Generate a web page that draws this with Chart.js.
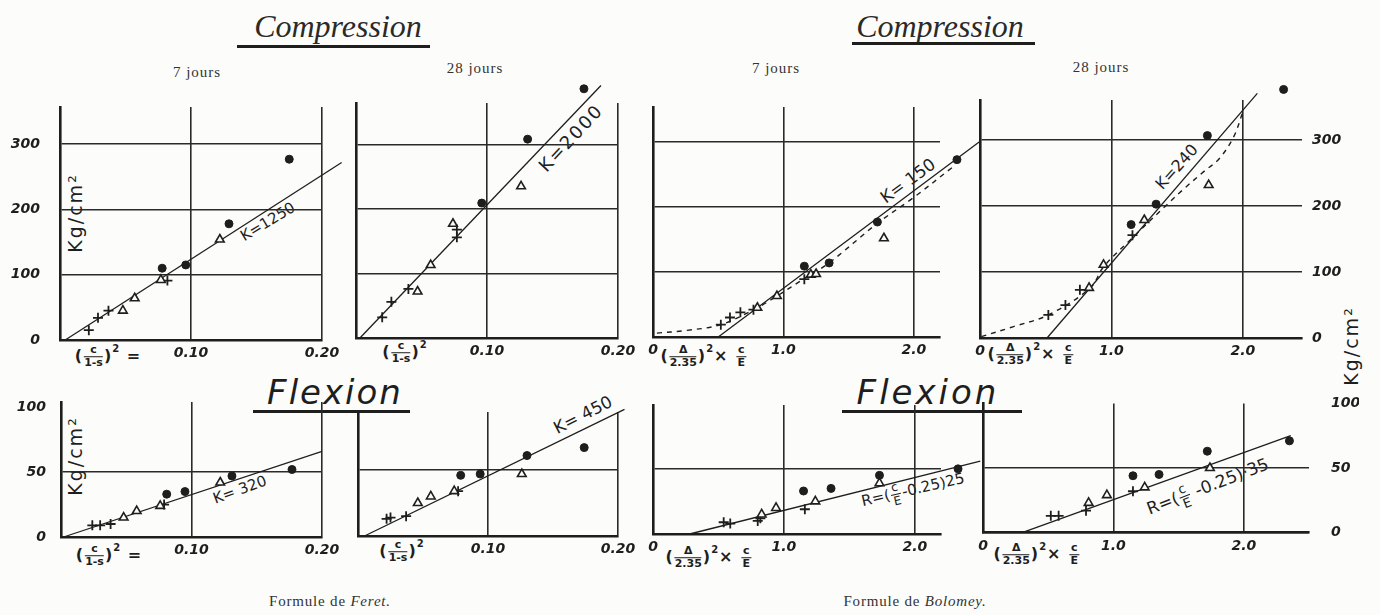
<!DOCTYPE html>
<html lang="fr">
<head>
<meta charset="utf-8">
<title>Formules de Feret et de Bolomey</title>
<script src="https://cdn.jsdelivr.net/npm/chart.js@4.4.1/dist/chart.umd.min.js"></script>
<style>
  html, body { margin: 0; padding: 0; }
  body { width: 1380px; height: 615px; position: relative; overflow: hidden; background: #fcfcfa; color: #1e1e1e; }
  canvas { position: absolute; }
  .t { position: absolute; white-space: nowrap; transform: translate(-50%, -50%); line-height: 1; }
  .title { font: italic 32px "Liberation Serif", serif; color: #2a2a2a; }
  .flex { font: italic 34px "DejaVu Sans", sans-serif; letter-spacing: 2px; }
  .days { font: 15px "Liberation Serif", serif; letter-spacing: 1px; color: #333; }
  .formule { font: 15px "Liberation Serif", serif; letter-spacing: 0.8px; color: #333; }
  .rule { position: absolute; background: #1e1e1e; }
  .hand { font-family: "DejaVu Sans", sans-serif; }
  .expr { font: bold 16px "DejaVu Sans", sans-serif; letter-spacing: 1px; }
  .expr sup { font-size: 10px; vertical-align: 9px; }
  .fr { display: inline-flex; flex-direction: column; vertical-align: middle; text-align: center; font-size: 11px; line-height: 1.05; margin: 0 1px; letter-spacing: 0; }
  .fr > span:first-child { border-bottom: 1.5px solid #1e1e1e; padding: 0 2px; }
  .unit { font: 19px "DejaVu Sans", sans-serif; letter-spacing: 2px; }
</style>
</head>
<body>

<div class="t title" style="left:338px;top:26px">Compression</div>
<div class="rule" style="left:237px;top:45px;width:193px;height:3px"></div>
<div class="t title" style="left:940px;top:26px">Compression</div>
<div class="rule" style="left:852px;top:42px;width:183px;height:3px"></div>

<div class="t days" style="left:197px;top:72px">7 jours</div>
<div class="t days" style="left:475px;top:68px">28 jours</div>
<div class="t days" style="left:776px;top:68px">7 jours</div>
<div class="t days" style="left:1101px;top:67px">28 jours</div>

<div class="t flex" style="left:335px;top:392px">Flexion</div>
<div class="rule" style="left:253px;top:410px;width:157px;height:2.5px"></div>
<div class="t flex" style="left:928px;top:392px;letter-spacing:3px">Flexion</div>
<div class="rule" style="left:842px;top:410px;width:180px;height:2.5px"></div>

<div class="t formule" style="left:330px;top:601px">Formule de <i>Feret.</i></div>
<div class="t formule" style="left:915px;top:601px">Formule de <i>Bolomey.</i></div>

<!-- unités -->
<div class="t unit" style="left:75px;top:213px;transform:translate(-50%,-50%) rotate(-90deg)">Kg/cm²</div>
<div class="t unit" style="left:75px;top:456px;transform:translate(-50%,-50%) rotate(-90deg)">Kg/cm²</div>
<div class="t unit" style="left:1351px;top:346px;transform:translate(-50%,-50%) rotate(-90deg)">Kg/cm²</div>

<!-- abscisses -->
<div class="t expr" style="left:108px;top:356px">(<span class="fr"><span>c</span><span>1-s</span></span>)<sup>2</sup> =</div>
<div class="t expr" style="left:405px;top:352px">(<span class="fr"><span>c</span><span>1-s</span></span>)<sup>2</sup></div>
<div class="t expr" style="left:109px;top:555px">(<span class="fr"><span>c</span><span>1-s</span></span>)<sup>2</sup> =</div>
<div class="t expr" style="left:402px;top:551px">(<span class="fr"><span>c</span><span>1-s</span></span>)<sup>2</sup></div>
<div class="t expr" style="left:704px;top:356px">(<span class="fr"><span>Δ</span><span>2.35</span></span>)<sup>2</sup>× <span class="fr"><span>c</span><span>E</span></span></div>
<div class="t expr" style="left:1031px;top:354px">(<span class="fr"><span>Δ</span><span>2.35</span></span>)<sup>2</sup>× <span class="fr"><span>c</span><span>E</span></span></div>
<div class="t expr" style="left:709px;top:557px">(<span class="fr"><span>Δ</span><span>2.35</span></span>)<sup>2</sup>× <span class="fr"><span>c</span><span>E</span></span></div>
<div class="t expr" style="left:1037px;top:554px">(<span class="fr"><span>Δ</span><span>2.35</span></span>)<sup>2</sup>× <span class="fr"><span>c</span><span>E</span></span></div>

<!-- droites -->
<div class="t hand" style="left:268px;top:222px;font-size:15px;transform:translate(-50%,-50%) rotate(-31deg)">K=1250</div>
<div class="t hand" style="left:571px;top:138px;font-size:18px;letter-spacing:2px;transform:translate(-50%,-50%) rotate(-47deg)">K=2000</div>
<div class="t hand" style="left:908px;top:181px;font-size:17px;transform:translate(-50%,-50%) rotate(-36deg)">K= 150</div>
<div class="t hand" style="left:1177px;top:167px;font-size:16px;transform:translate(-50%,-50%) rotate(-48deg)">K=240</div>
<div class="t hand" style="left:240px;top:490px;font-size:15px;transform:translate(-50%,-50%) rotate(-20deg)">K= 320</div>
<div class="t hand" style="left:583px;top:415px;font-size:17px;transform:translate(-50%,-50%) rotate(-27deg)">K= 450</div>
<div class="t hand" style="left:913px;top:490px;font-size:15px;transform:translate(-50%,-50%) rotate(-13deg)">R=(<span class="fr" style="font-size:12px"><span>c</span><span>E</span></span>-0.25)25</div>
<div class="t hand" style="left:1208px;top:487px;font-size:17px;transform:translate(-50%,-50%) rotate(-21deg)">R=(<span class="fr" style="font-size:13px"><span>c</span><span>E</span></span> -0.25)·35</div>

<script>
const INK = '#1e1e1e';
const PAPER = '#fcfcfa';

// axes
const feretX = [0, 0.1, 0.2];
const feretXLabels = ['', '0.10', '0.20'];
const bolomeyX = [0, 1, 2];
const bolomeyXLabels = ['0', '1.0', '2.0'];
const compY = [0, 100, 200, 300];
const compYLabels = ['0', '100', '200', '300'];
const flexY = [0, 50, 100];
const flexYLabels = ['0', '50', '100'];

// Feret, compression 7 jours
const fc7Cross = [[0.022, 15], [0.029, 34], [0.037, 45], [0.082, 91]];
const fc7Tri = [[0.048, 45], [0.057, 64], [0.077, 92], [0.122, 154]];
const fc7Dots = [[0.078, 110], [0.096, 115], [0.129, 178], [0.175, 277]];
const fc7Line = [[0.004, 0], [0.215, 272]];

// Feret, compression 28 jours
const fc28Cross = [[0.020, 32], [0.027, 56], [0.040, 76], [0.077, 156], [0.077, 168]];
const fc28Tri = [[0.047, 72], [0.057, 113], [0.074, 177], [0.126, 235]];
const fc28Dots = [[0.096, 209], [0.131, 308], [0.174, 386]];
const fc28Line = [[0.003, 0], [0.187, 391]];

// Bolomey, compression 7 jours
const bc7Cross = [[0.52, 19], [0.59, 30], [0.67, 38], [0.77, 42], [1.16, 89]];
const bc7Tri = [[0.80, 45], [0.95, 63], [1.21, 96], [1.25, 97], [1.77, 152]];
const bc7Dots = [[1.16, 109], [1.35, 114], [1.72, 177], [2.33, 273]];
const bc7Line = [[0.5, 0], [2.5, 300]];
const bc7Curve = [[0.03, 6], [0.25, 10], [0.52, 19], [0.8, 45], [0.95, 63], [1.16, 90], [1.35, 114], [1.72, 175], [2.0, 215], [2.3, 262]];

// Bolomey, compression 28 jours
const bc28Cross = [[0.52, 35], [0.65, 50], [0.76, 73], [1.16, 156]];
const bc28Tri = [[0.83, 76], [0.94, 111], [1.25, 179], [1.74, 232]];
const bc28Dots = [[1.15, 172], [1.34, 203], [1.73, 307], [2.31, 377]];
const bc28Line = [[0.51, 0], [2.11, 371]];
const bc28Curve = [[0.01, 2], [0.25, 17], [0.52, 35], [0.84, 76], [0.94, 108], [1.16, 152], [1.41, 200], [1.55, 226], [1.7, 252], [1.82, 272], [1.93, 305], [2.0, 343]];

// Feret, flexion 7 jours
const ff7Cross = [[0.024, 9], [0.030, 9], [0.038, 10], [0.079, 25]];
const ff7Tri = [[0.048, 15], [0.058, 20], [0.076, 24], [0.122, 42]];
const ff7Dots = [[0.081, 33], [0.095, 35], [0.131, 47], [0.177, 52]];
const ff7Line = [[0.002, 0], [0.2, 66]];

// Feret, flexion 28 jours
const ff28Cross = [[0.022, 13], [0.025, 14], [0.037, 15], [0.077, 34]];
const ff28Tri = [[0.046, 25], [0.056, 30], [0.074, 34], [0.126, 47]];
const ff28Dots = [[0.079, 46], [0.094, 47], [0.130, 61], [0.174, 67]];
const ff28Line = [[0.005, 0], [0.205, 96]];

// Bolomey, flexion 7 jours
const bf7Cross = [[0.54, 9], [0.59, 8], [0.80, 10], [0.82, 12], [1.16, 19]];
const bf7Tri = [[0.83, 15], [0.94, 20], [1.24, 25], [1.73, 39]];
const bf7Dots = [[1.15, 33], [1.36, 35], [1.73, 45], [2.33, 50]];
const bf7Line = [[0.28, 0], [2.5, 56]];

// Bolomey, flexion 28 jours
const bf28Cross = [[0.52, 13], [0.58, 13], [0.79, 17], [1.15, 32]];
const bf28Tri = [[0.81, 23], [0.95, 29], [1.24, 35], [1.74, 50]];
const bf28Dots = [[1.15, 44], [1.35, 45], [1.72, 63], [2.35, 71]];
const bf28Line = [[0.30, 0], [2.36, 75]];

// box = chart area in page pixels [left, top, right, bottom]
const panels = [
  { box: [60, 107, 322, 340], xMax: 0.2, yMax: 357, x: feretX, xl: feretXLabels, y: compY, yl: compYLabels, lineTop: 300, side: 'left', cross: fc7Cross, tri: fc7Tri, dots: fc7Dots, fit: fc7Line },
  { box: [356, 103, 618, 338], xMax: 0.2, yMax: 364, x: feretX, xl: feretXLabels, y: compY, yl: compYLabels, lineTop: 300, cross: fc28Cross, tri: fc28Tri, dots: fc28Dots, fit: fc28Line },
  { box: [653, 107, 940, 337], xMax: 2.2, yMax: 354, x: bolomeyX, xl: bolomeyXLabels, y: compY, yl: compYLabels, lineTop: 300, cross: bc7Cross, tri: bc7Tri, dots: bc7Dots, fit: bc7Line, curve: bc7Curve },
  { box: [980, 100, 1302, 338], xMax: 2.45, yMax: 361, x: bolomeyX, xl: bolomeyXLabels, y: compY, yl: compYLabels, lineTop: 300, side: 'right', cross: bc28Cross, tri: bc28Tri, dots: bc28Dots, fit: bc28Line, curve: bc28Curve },
  { box: [61, 402, 322, 537], xMax: 0.2, yMax: 104, x: feretX, xl: feretXLabels, y: flexY, yl: flexYLabels, lineTop: 50, side: 'left', cross: ff7Cross, tri: ff7Tri, dots: ff7Dots, fit: ff7Line },
  { box: [358, 412, 618, 536], xMax: 0.2, yMax: 94, x: feretX, xl: feretXLabels, y: flexY, yl: flexYLabels, lineTop: 50, cross: ff28Cross, tri: ff28Tri, dots: ff28Dots, fit: ff28Line },
  { box: [653, 405, 941, 534], xMax: 2.2, yMax: 99, x: bolomeyX, xl: bolomeyXLabels, y: flexY, yl: flexYLabels, lineTop: 50, cross: bf7Cross, tri: bf7Tri, dots: bf7Dots, fit: bf7Line },
  { box: [983, 403, 1309, 533], xMax: 2.5, yMax: 100, x: bolomeyX, xl: bolomeyXLabels, y: flexY, yl: flexYLabels, lineTop: 50, side: 'right', cross: bf28Cross, tri: bf28Tri, dots: bf28Dots, fit: bf28Line }
];

const PAD = 50, PAD_T = 30, PAD_B = 30;
const tickFont = { family: 'DejaVu Sans', size: 14, weight: 'bold', style: 'italic' };

const toXY = pts => pts.map(([x, y]) => ({ x, y }));

// points lying above the frame (drawn past the axis top in the original)
const outsidePoints = {
  id: 'outsidePoints',
  afterDatasetsDraw(chart) {
    const a = chart.chartArea;
    const all = { left: -1e4, top: -1e4, right: 1e4, bottom: 1e4 };
    chart.getSortedVisibleDatasetMetas().forEach(meta => {
      meta.data.forEach(el => {
        if (el.x < a.left || el.x > a.right || el.y < a.top || el.y > a.bottom) el.draw(chart.ctx, all);
      });
    });
  }
};

function drawPanel(p) {
  const [l, t, r, b] = p.box;
  const canvas = document.createElement('canvas');
  canvas.width = (r - l) + PAD * 2;
  canvas.height = (b - t) + PAD_T + PAD_B;
  canvas.style.left = (l - PAD) + 'px';
  canvas.style.top = (t - PAD_T) + 'px';
  document.body.appendChild(canvas);

  const datasets = [
    { data: toXY(p.dots), pointStyle: 'circle', pointRadius: 4, borderWidth: 1, borderColor: INK, backgroundColor: INK },
    { data: toXY(p.tri), pointStyle: 'triangle', pointRadius: 5, borderWidth: 1.6, borderColor: INK, backgroundColor: PAPER },
    { data: toXY(p.cross), pointStyle: 'cross', pointRadius: 5, borderWidth: 1.8, borderColor: INK },
    { data: toXY(p.fit), showLine: true, pointRadius: 0, borderWidth: 1.3, borderColor: INK }
  ];
  if (p.curve) {
    datasets.push({ data: toXY(p.curve), showLine: true, pointRadius: 0, borderWidth: 1.4, borderColor: INK, borderDash: [5, 5], tension: 0.35 });
  }
  datasets.forEach(d => { d.clip = false; });

  const setTicks = vals => s => { s.ticks = vals.map(v => ({ value: v })); };
  const gridColor = c => (c.tick && c.tick.value > p.lineTop) ? 'rgba(0,0,0,0)' : '#2a2a2a';

  const scales = {
    x: {
      type: 'linear', min: 0, max: p.xMax,
      afterBuildTicks: setTicks(p.x),
      afterFit: s => { s.height = PAD_B; },
      grid: { color: '#2a2a2a', lineWidth: 1.6, drawTicks: false },
      border: { color: INK, width: 2.6 },
      ticks: { autoSkip: false, maxRotation: 0, padding: 5, color: INK, font: tickFont,
               callback: v => p.xl[p.x.indexOf(v)] }
    },
    y: {
      type: 'linear', min: 0, max: p.yMax,
      afterBuildTicks: setTicks(p.y),
      afterFit: s => { s.width = PAD; },
      grid: { color: gridColor, lineWidth: 1.6, drawTicks: false },
      border: { color: INK, width: 2.6 },
      ticks: { display: p.side === 'left', padding: p.yMax > 200 ? 20 : 15, color: INK, font: tickFont,
               callback: v => p.yl[p.y.indexOf(v)] }
    }
  };
  if (p.side === 'right') {
    scales.yR = {
      type: 'linear', position: 'right', min: 0, max: p.yMax,
      afterBuildTicks: setTicks(p.y),
      afterFit: s => { s.width = PAD; },
      grid: { display: false, drawTicks: false },
      border: { display: false },
      ticks: { padding: p.yMax > 200 ? 10 : 22, color: INK, font: tickFont,
               callback: v => p.yl[p.y.indexOf(v)] }
    };
  }

  new Chart(canvas, {
    type: 'scatter',
    data: { datasets },
    plugins: [outsidePoints],
    options: {
      responsive: false,
      animation: false,
      events: [],
      layout: { padding: { left: 0, right: p.side === 'right' ? 0 : PAD, top: PAD_T, bottom: 0 } },
      plugins: { legend: { display: false }, tooltip: { enabled: false } },
      scales
    }
  });
}

panels.forEach(drawPanel);
</script>
</body>
</html>
